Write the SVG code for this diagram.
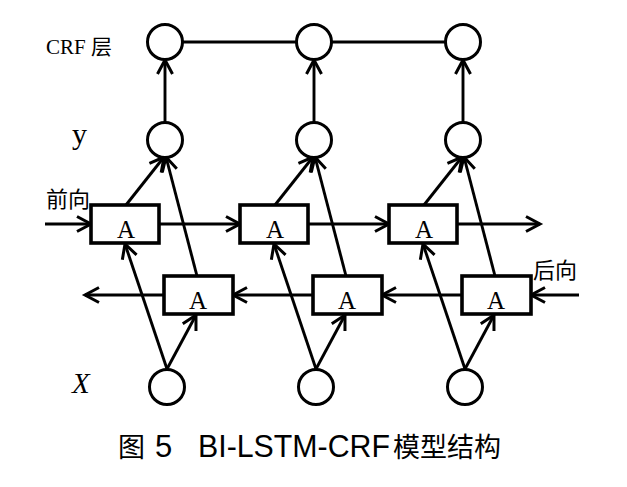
<svg xmlns="http://www.w3.org/2000/svg" width="627" height="487" viewBox="0 0 627 487">
<defs>
<marker id="ah" markerUnits="userSpaceOnUse" markerWidth="20" markerHeight="20" viewBox="-16 -10 20 20" refX="0" refY="0" orient="auto">
<path d="M-14,-7.5 L0,0 L-14,7.5" fill="none" stroke="#000" stroke-width="3"/>
</marker>
<style>
.c{fill:#fff;stroke:#000;stroke-width:3}
.b{fill:#fff;stroke:#000;stroke-width:3.6}
.l{fill:none;stroke:#000;stroke-width:2.9}
.a{marker-end:url(#ah)}
.t{font-family:"Liberation Serif","Noto Sans CJK SC",serif;fill:#000}
.cj{font-family:"Noto Sans CJK SC",sans-serif;fill:#000}
.A{font-family:"Liberation Serif",serif;font-size:25px;text-anchor:middle;fill:#000}
</style>
</defs>
<rect width="627" height="487" fill="#fff"/>
<g id="connectors">
<line class="l" x1="183" y1="42" x2="296" y2="42"/>
<line class="l" x1="332" y1="42" x2="445" y2="42"/>
<line class="l a" x1="165" y1="123" x2="165" y2="60"/>
<line class="l a" x1="314" y1="123" x2="314" y2="60"/>
<line class="l a" x1="463" y1="123" x2="463" y2="60"/>
<line class="l a" x1="126" y1="205" x2="164" y2="157"/>
<line class="l a" x1="197" y1="276" x2="166" y2="157"/>
<line class="l a" x1="275" y1="205" x2="313" y2="157"/>
<line class="l a" x1="346" y1="276" x2="315" y2="157"/>
<line class="l a" x1="424" y1="205" x2="462" y2="157"/>
<line class="l a" x1="495" y1="276" x2="464" y2="157"/>
<line class="l a" x1="167" y1="369" x2="125" y2="244"/>
<line class="l a" x1="167" y1="369" x2="196" y2="315"/>
<line class="l a" x1="316" y1="369" x2="274" y2="244"/>
<line class="l a" x1="316" y1="369" x2="345" y2="315"/>
<line class="l a" x1="465" y1="369" x2="423" y2="244"/>
<line class="l a" x1="465" y1="369" x2="494" y2="315"/>
<line class="l a" x1="45" y1="224" x2="91" y2="224"/>
<line class="l a" x1="159" y1="224" x2="240" y2="224"/>
<line class="l a" x1="308" y1="224" x2="389" y2="224"/>
<line class="l a" x1="457" y1="224" x2="540" y2="224"/>
<line class="l a" x1="579" y1="295" x2="531" y2="295"/>
<line class="l a" x1="462" y1="295" x2="382" y2="295"/>
<line class="l a" x1="313" y1="295" x2="233" y2="295"/>
<line class="l a" x1="164" y1="295" x2="85" y2="295"/>
</g>
<g id="crf1"><circle class="c" cx="165" cy="42" r="17.5"/></g>
<g id="crf2"><circle class="c" cx="314" cy="42" r="17.5"/></g>
<g id="crf3"><circle class="c" cx="463" cy="42" r="17.5"/></g>
<g id="y1"><circle class="c" cx="165" cy="140" r="17.5"/></g>
<g id="y2"><circle class="c" cx="314" cy="140" r="17.5"/></g>
<g id="y3"><circle class="c" cx="463" cy="140" r="17.5"/></g>
<g id="x1"><circle class="c" cx="167" cy="387" r="17.5"/></g>
<g id="x2"><circle class="c" cx="316" cy="387" r="17.5"/></g>
<g id="x3"><circle class="c" cx="465" cy="387" r="17.5"/></g>
<g id="f1"><rect class="b" x="91" y="205" width="68" height="38"/><text class="A" x="126" y="238">A</text></g>
<g id="f2"><rect class="b" x="240" y="205" width="68" height="38"/><text class="A" x="275" y="238">A</text></g>
<g id="f3"><rect class="b" x="389" y="205" width="68" height="38"/><text class="A" x="424" y="238">A</text></g>
<g id="b1"><rect class="b" x="164" y="276" width="69" height="38"/><text class="A" x="198" y="309">A</text></g>
<g id="b2"><rect class="b" x="313" y="276" width="69" height="38"/><text class="A" x="347" y="309">A</text></g>
<g id="b3"><rect class="b" x="462" y="276" width="69" height="38"/><text class="A" x="496" y="309">A</text></g>
<g id="labels">
<text class="t" x="46" y="54" font-size="21">CRF <tspan class="cj" font-size="21">层</tspan></text>
<text class="t" x="72" y="144" font-size="30">y</text>
<text class="cj" x="46" y="207" font-size="22">前向</text>
<text class="cj" x="533" y="278" font-size="22">后向</text>
<text class="t" x="72" y="393" font-size="29" font-style="italic">X</text>
<text class="cj" y="457" font-size="27" fill="#111"><tspan x="118">图</tspan><tspan x="155" font-family="Liberation Sans,sans-serif" font-size="31">5</tspan><tspan x="198" font-family="Liberation Sans,sans-serif" font-size="31" textLength="192" lengthAdjust="spacingAndGlyphs">BI-LSTM-CRF</tspan><tspan x="393">模型结构</tspan></text>
</g>
</svg>
